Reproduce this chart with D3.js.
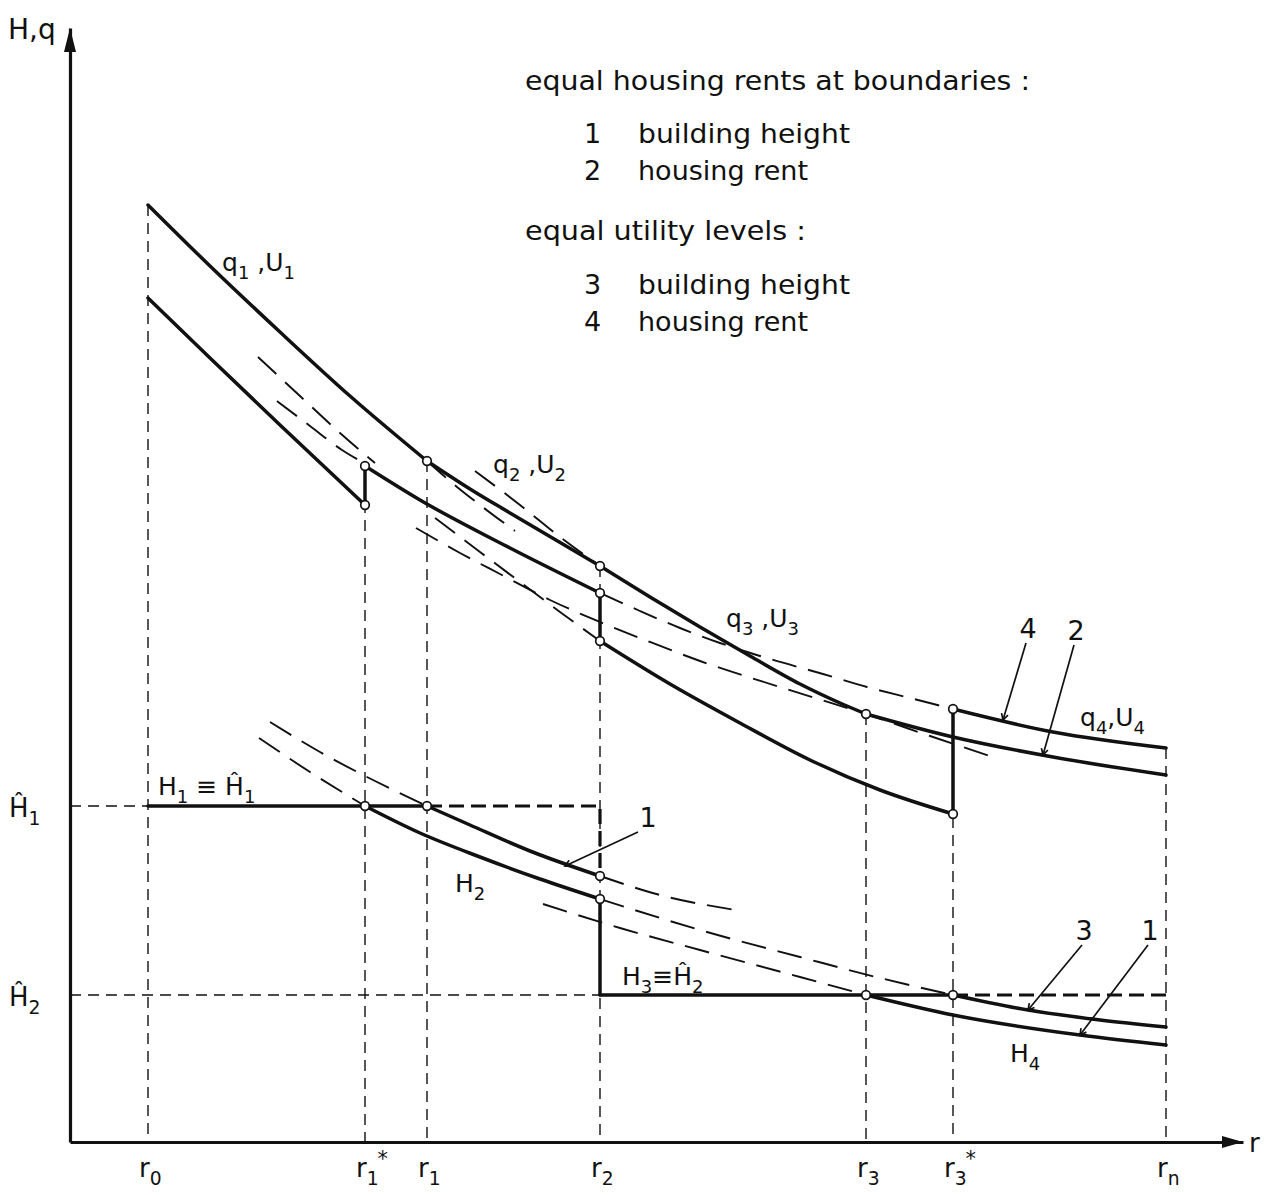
<!DOCTYPE html>
<html>
<head>
<meta charset="utf-8">
<script src="https://cdn.jsdelivr.net/npm/d3@7"></script>
<style>
  html, body { margin: 0; padding: 0; background: #fff; }
  svg { display: block; }
  text { font-family: "DejaVu Sans", "Liberation Sans", sans-serif; fill: #111; }
</style>
</head>
<body>
<svg id="fig" width="1268" height="1195"></svg>
<script>
// ---------------- data (schematic units: distance r, level H / q) ----------------
const boundaryPos  = [7.8, 29.5, 35.7, 53.0, 79.6, 88.3, 109.6];   // r0, r1*, r1, r2, r3, r3*, rn
const boundaryTop  = [93.7, 67.6, 68.1, 57.6, 42.8, 43.3, 39.4];   // where each guide line starts
const tickSub      = ["0", "1", "1", "2", "3", "3", "n"];
const tickSup      = ["",  "*", "",  "",  "",  "*", ""];

const hatLevels    = [33.6, 14.7];                                  // Ĥ1, Ĥ2
const hatSubs      = ["1", "2"];

// housing rent, equal rents at boundaries (curve 2)
const rentQ1 = [[7.8,93.7],[14.0,87.6],[21.0,81.0],[28.0,74.6],[35.7,68.1]];
const rentQ2 = [[35.7,68.1],[40.0,65.3],[44.0,62.9],[53.0,57.6]];
const rentQ3 = [[53.0,57.6],[58.0,54.5],[63.0,51.5],[68.0,48.6],[73.0,45.8],[77.0,43.9],[79.6,42.8]];
const rentQ4 = [[79.6,42.8],[88.3,40.5],[98.3,38.5],[109.6,36.7]];

// housing rent, equal utility levels (curve 4)
const utilQ1      = [[7.8,84.4],[14.0,78.4],[21.0,71.7],[29.5,63.7]];
const utilQ2      = [[29.5,67.6],[35.0,64.2],[44.0,59.4],[53.0,54.9]];
const utilQ2Ext   = [[53.0,54.9],[57.0,53.1],[61.0,51.4],[65.0,49.9],[70.0,48.3],[75.3,46.8],[79.7,45.5],[84.0,44.4],[88.3,43.3]];
const utilQ4      = [[88.3,43.3],[98.3,41.0],[109.6,39.4]];
const utilQ3      = [[53.0,50.1],[60.0,45.8],[67.0,41.9],[74.0,38.2],[81.0,35.2],[88.3,32.8]];
const utilQ3Ext   = [[36.5,62.4],[41.0,59.0],[45.0,56.0],[49.0,53.0],[53.0,50.1]];

// extensions of the rent curves outside their own zones
const rentExtA    = [[18.8,78.5],[23.0,74.6],[27.0,70.9],[30.5,67.9]];
const rentExtB    = [[20.7,74.1],[24.0,71.6],[27.2,69.2],[29.2,68.0]];
const rentQ1Ext   = [[35.7,68.1],[38.7,65.5],[41.0,63.7],[44.5,61.1]];
const rentQ3Ext   = [[40.5,67.1],[45.0,63.7],[49.0,60.5],[53.0,57.6]];
const rentQ4Ext   = [[34.6,61.4],[39.0,58.9],[43.0,56.8],[48.0,54.2],[53.0,52.0],[58.0,50.0],[63.0,48.1],[71.3,45.4],[79.6,42.8],[86.0,40.6],[92.0,38.6]];

// building heights, equal rents at boundaries (curve 1)
const heightH2aLeft  = [[20.0,42.0],[25.0,39.0],[30.5,36.1],[35.7,33.6]];
const heightH2a      = [[35.7,33.6],[40.0,31.7],[46.0,29.1],[53.0,26.6]];
const heightH2aRight = [[53.0,26.6],[59.0,24.7],[66.5,23.2]];
const heightH4aExt   = [[47.3,23.8],[55.0,21.4],[63.0,19.2],[73.0,16.5],[79.6,14.7]];
const heightH4a      = [[79.6,14.7],[88.3,12.7],[101.0,10.7],[109.6,9.7]];

// building heights, equal utility levels (curve 3)
const heightH2bLeft  = [[18.9,40.4],[24.0,37.0],[29.5,33.6]];
const heightH2b      = [[29.5,33.6],[35.0,30.9],[41.0,28.5],[47.0,26.3],[53.0,24.3]];
const heightH2bRight = [[53.0,24.3],[63.0,21.2],[73.0,18.5],[81.0,16.4],[88.3,14.7]];
const heightH4b      = [[88.3,14.7],[95.8,13.2],[103.0,12.2],[109.6,11.5]];

// open circles at the switching points
const switchPoints = [[29.5,67.6],[29.5,63.7],[35.7,68.1],[53.0,57.6],[53.0,54.9],[53.0,50.1],
                      [79.6,42.8],[88.3,43.3],[88.3,32.8],
                      [29.5,33.6],[35.7,33.6],[53.0,26.6],[53.0,24.3],[79.6,14.7],[88.3,14.7]];

// curve keys: text and the chart point each leader line touches
const keyText   = ["4", "2", "1", "3", "1"];
const keyTarget = [[93.3,42.2],[97.3,38.7],[49.5,27.6],[95.8,13.2],[101.0,10.7]];

// legend
const legendHead  = ["equal housing rents at boundaries :", "equal utility levels :"];
const legendKeys  = ["1", "2", "3", "4"];
const legendItems = ["building height", "housing rent", "building height", "housing rent"];

// ---------------- drawing ----------------
const svg = d3.select("#fig");
const ink = "#111";
const x = d3.scaleLinear().domain([0, 117.3]).range([70, 1243]);
const y = d3.scaleLinear().domain([0, 111.4]).range([1142, 28]);
const smooth = d3.line().x(d => x(d[0])).y(d => y(d[1])).curve(d3.curveMonotoneX);
const straight = d3.line().x(d => x(d[0])).y(d => y(d[1]));

const styles = {
  solid:     { w: 3.5, dash: null },
  dash:      { w: 1.9, dash: "25,12" },
  thickDash: { w: 3.2, dash: "15,7" },
  guide:     { w: 1.4, dash: "11,7" }
};
function stroke(path, kind) {
  const s = styles[kind];
  path.attr("fill", "none").attr("stroke", ink).attr("stroke-width", s.w)
      .attr("stroke-linecap", kind === "solid" ? "round" : "butt")
      .attr("stroke-linejoin", "round");
  if (s.dash) path.attr("stroke-dasharray", s.dash);
  return path;
}
const curve = (pts, kind) => stroke(svg.append("path").attr("d", smooth(pts)), kind);
const seg   = (pts, kind) => stroke(svg.append("path").attr("d", straight(pts)), kind);

// vertical guide lines at the zone boundaries
boundaryPos.forEach((r, i) => seg([[r, boundaryTop[i]], [r, 0]], "guide"));
// horizontal guides for the height caps
seg([[0, hatLevels[0]], [boundaryPos[0], hatLevels[0]]], "guide");
seg([[0, hatLevels[1]], [boundaryPos[3], hatLevels[1]]], "guide");

// dashed extensions
[rentExtA, rentExtB, rentQ1Ext, rentQ3Ext, rentQ4Ext, utilQ2Ext, utilQ3Ext,
 heightH2aLeft, heightH2aRight, heightH2bLeft, heightH2bRight, heightH4aExt]
  .forEach(p => curve(p, "dash"));

// rent curves
[rentQ1, rentQ2, rentQ3, rentQ4, utilQ1, utilQ2, utilQ3, utilQ4].forEach(p => curve(p, "solid"));
seg([utilQ2[0], utilQ1[utilQ1.length - 1]], "solid");
seg([utilQ2[utilQ2.length - 1], utilQ3[0]], "solid");
seg([utilQ4[0], utilQ3[utilQ3.length - 1]], "solid");

// height curves
[heightH2a, heightH2b, heightH4a, heightH4b].forEach(p => curve(p, "solid"));
seg([[boundaryPos[0], hatLevels[0]], [boundaryPos[2], hatLevels[0]]], "solid");      // H1 = Ĥ1
seg([[boundaryPos[3], heightH2b[heightH2b.length - 1][1]], [boundaryPos[3], hatLevels[1]]], "solid");
seg([[boundaryPos[3], hatLevels[1]], [boundaryPos[5], hatLevels[1]]], "solid");      // H3 = Ĥ2
seg([[boundaryPos[2], hatLevels[0]], [boundaryPos[3], hatLevels[0]], [boundaryPos[3], heightH2a[heightH2a.length - 1][1]]], "thickDash");
seg([[boundaryPos[5], hatLevels[1]], [boundaryPos[6], hatLevels[1]]], "thickDash");

// switching points
svg.selectAll("circle.sw").data(switchPoints).join("circle")
  .attr("class", "sw").attr("cx", d => x(d[0])).attr("cy", d => y(d[1])).attr("r", 4.3)
  .attr("fill", "#fff").attr("stroke", ink).attr("stroke-width", 1.7);

// axes
const xAxis = svg.append("g").attr("transform", `translate(0,${y(0)})`)
  .call(d3.axisBottom(x).tickValues(boundaryPos).tickSize(0).tickSizeOuter(0).tickFormat(""));
const yAxis = svg.append("g").attr("transform", `translate(${x(0)},0)`)
  .call(d3.axisLeft(y).tickValues([]).tickSizeOuter(0));
[xAxis, yAxis].forEach(a => a.select(".domain").attr("stroke", ink).attr("stroke-width", 3.2));
svg.append("path").attr("fill", ink)
  .attr("d", `M${x(115.2)},${y(0) - 6}L${x(117.3)},${y(0)}L${x(115.2)},${y(0) + 6}Z`);
svg.append("path").attr("fill", ink)
  .attr("d", `M${x(0) - 6},${y(109.0)}L${x(0)},${y(111.4)}L${x(0) + 6},${y(109.0)}Z`);

// rich text: parts are [string, "sub" | "sup" | "", dx]
function rich(px, py, parts, size, anchor) {
  const t = svg.append("text").attr("x", px).attr("y", py).attr("font-size", size)
    .attr("text-anchor", anchor || "start");
  parts.forEach(([s, k, dx]) => {
    const ts = t.append("tspan").text(s);
    if (k === "sub") ts.attr("font-size", size * 0.72).attr("baseline-shift", -size * 0.3);
    if (k === "sup") ts.attr("font-size", size * 0.8).attr("baseline-shift", size * 0.42);
    if (dx) ts.attr("dx", dx);
  });
  return t;
}

// axis titles and tick labels
rich(8, 39, [["H,q", ""]], 28);
rich(1249, 1152, [["r", ""]], 26);
boundaryPos.forEach((r, i) => {
  const parts = [["r", ""], [tickSub[i], "sub"]];
  if (tickSup[i]) parts.push([tickSup[i], "sup", -1]);
  rich(x(r) - 9, 1177, parts, 26);
});
hatLevels.forEach((h, i) => rich(9, y(h) + 11, [["Ĥ", ""], [hatSubs[i], "sub"]], 26));

// curve labels
rich(222, 271, [["q", ""], ["1", "sub"], [" ,", ""], ["U", ""], ["1", "sub"]], 25);
rich(493, 473, [["q", ""], ["2", "sub"], [" ,", ""], ["U", ""], ["2", "sub"]], 25);
rich(726, 627, [["q", ""], ["3", "sub"], [" ,", ""], ["U", ""], ["3", "sub"]], 25);
rich(1080, 726, [["q", ""], ["4", "sub"], [",", ""], ["U", ""], ["4", "sub"]], 25);
rich(158, 795, [["H", ""], ["1", "sub"], [" ≡ ", ""], ["Ĥ", ""], ["1", "sub"]], 25);
rich(455, 892, [["H", ""], ["2", "sub"]], 25);
rich(622, 985, [["H", ""], ["3", "sub"], ["≡", ""], ["Ĥ", ""], ["2", "sub"]], 25);
rich(1010, 1062, [["H", ""], ["4", "sub"]], 25);

// keys with leader lines
const keyAnchor = [[95.6, 49.9], [100.4, 49.7], [56.8, 31.0], [101.2, 19.7], [107.8, 19.7]];
keyText.forEach((k, i) => {
  const a = keyAnchor[i], b = keyTarget[i];
  seg([a, b], "guide").attr("stroke-dasharray", null).attr("stroke-width", 1.7);
  const lx = x(a[0]) + (i === 2 ? 10 : 2), ly = y(a[1]) - 5;
  rich(lx, ly, [[k, ""]], 27, "middle");
  // small tick where the leader touches its curve
  const ang = Math.atan2(y(b[1]) - y(a[1]), x(b[0]) - x(a[0]));
  const bx = x(b[0]), by = y(b[1]);
  svg.append("path").attr("fill", "none").attr("stroke", ink).attr("stroke-width", 1.7)
    .attr("d", `M${bx - 7 * Math.cos(ang - 0.5)},${by - 7 * Math.sin(ang - 0.5)}L${bx},${by}L${bx - 7 * Math.cos(ang + 0.5)},${by - 7 * Math.sin(ang + 0.5)}`);
});

// legend
const lg = svg.append("g");
const headY = [90, 240];
legendHead.forEach((h, i) => lg.append("text").attr("x", 525).attr("y", headY[i]).attr("font-size", 27)
  .attr("textLength", i === 0 ? 505 : 281).attr("lengthAdjust", "spacingAndGlyphs").text(h));
const itemY = [143, 180, 294, 331];
legendKeys.forEach((k, i) => {
  lg.append("text").attr("x", 584).attr("y", itemY[i]).attr("font-size", 27).text(k);
  lg.append("text").attr("x", 638).attr("y", itemY[i]).attr("font-size", 27)
    .attr("textLength", legendItems[i] === "building height" ? 212 : 170)
    .attr("lengthAdjust", "spacingAndGlyphs").text(legendItems[i]);
});
</script>
</body>
</html>
